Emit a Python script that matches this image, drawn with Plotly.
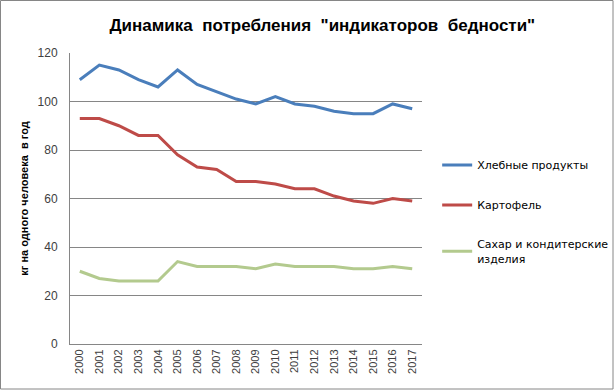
import plotly.graph_objects as go

years = [str(y) for y in range(2000, 2018)]
bread = [109, 115, 113, 109, 106, 113, 107, 104, 101, 99, 102, 99, 98, 96, 95, 95, 99, 97]
potato = [93, 93, 90, 86, 86, 78, 73, 72, 67, 67, 66, 64, 64, 61, 59, 58, 60, 59]
sugar = [30, 27, 26, 26, 26, 34, 32, 32, 32, 31, 33, 32, 32, 32, 31, 31, 32, 31]
names = ["Хлебные продукты", "Картофель", "Сахар и кондитерские<br>изделия"]
colors = ["#4A7EBB", "#BE4B48", "#B3CA8E"]

fig = go.Figure()
for i, (vals, nm, c) in enumerate(zip([bread, potato, sugar], names, colors)):
    fig.add_trace(go.Scatter(x=years, y=vals, mode="lines", name=nm,
                             legendgroup=f"g{i}",
                             line=dict(color=c, width=3)))

fig.update_layout(
    width=614, height=390,
    paper_bgcolor="white", plot_bgcolor="white",
    margin=dict(l=70, r=192, t=53, b=46, autoexpand=False),
    title=dict(text="<b>Динамика  потребления  \"индикаторов  бедности\"</b>",
               font=dict(family="Liberation Sans", size=17, color="black"),
               x=0.525, xanchor="center", y=0.935, yanchor="middle"),
    font=dict(family="Liberation Sans", size=11, color="#404040"),
    showlegend=True,
    legend=dict(xref="container", yref="container", x=0.712, xanchor="left",
                y=0.614, yanchor="top",
                tracegroupgap=21, itemwidth=30,
                font=dict(family="DejaVu Sans", size=11, color="black"),
                bgcolor="rgba(0,0,0,0)"),
    xaxis=dict(type="category", tickangle=-90, showgrid=False,
               range=[-0.5, 17.5],
               showline=True, linecolor="#868686", linewidth=1,
               ticks="", tickfont=dict(size=11, color="#404040")),
    yaxis=dict(range=[0, 120], dtick=20, showgrid=True, gridcolor="#868686",
               gridwidth=1, showline=True, linecolor="#868686", linewidth=1,
               zeroline=False, ticks="", ticklabelstandoff=9,
               tickfont=dict(size=12, color="#404040"),
               title=dict(text="<b>кг на одного человека  в год</b>",
                          font=dict(size=11, color="black"), standoff=6)),
    shapes=[dict(type="rect", xref="paper", yref="paper",
                 x0=-69.5/352, x1=(613-70)/352, y0=-45/291, y1=1+52.5/291,
                 line=dict(color="#868686", width=1), layer="below")],
)
fig.write_html("out.html", post_script="document.body.style.margin='0px';",
               config={"displayModeBar": False})
